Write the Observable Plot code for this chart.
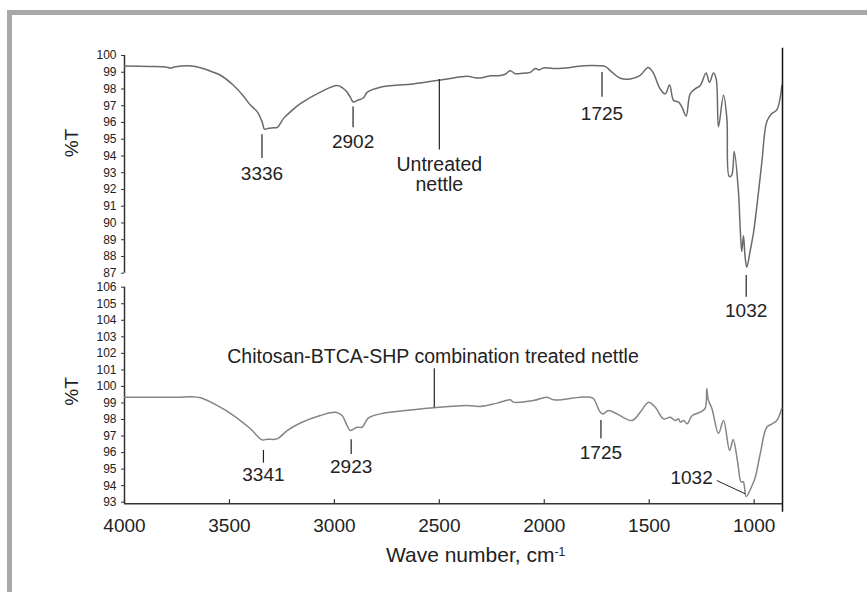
<!DOCTYPE html>
<html><head><meta charset="utf-8">
<script src="https://cdn.jsdelivr.net/npm/d3@7"></script>
<script src="https://cdn.jsdelivr.net/npm/@observablehq/plot@0.6"></script>
<style>
body{margin:0;background:#fff;}
#wrap{position:relative;width:867px;height:592px;overflow:hidden;font-family:"Liberation Sans",Arial,sans-serif;color:#222;}
#frame{position:absolute;left:7px;top:10px;width:900px;height:700px;border-top:5px solid #a8a8a8;border-left:5px solid #a8a8a8;}
#wrap svg{position:absolute;left:0;top:0;}
</style></head><body><div id="wrap"><div id="frame"></div></div>
<script>
// Untreated nettle spectrum (wavenumber cm-1, %T)
const topWave = [4000,3876,3805,3781,3757,3662,3605,3543,3481,3433,3400,3367,3343,3333,3314,3290,3271,3243,3210,3162,3067,2986,2948,2924,2910,2886,2862,2843,2781,2624,2462,2367,2329,2305,2257,2210,2186,2162,2138,2114,2067,2043,2024,2005,1957,1900,1814,1733,1710,1676,1638,1590,1543,1505,1482,1448,1424,1403,1384,1360,1344,1324,1305,1281,1257,1229,1213,1194,1181,1170,1146,1130,1119,1107,1095,1075,1067,1059,1051,1043,1035,1019,1003,979,963,940,916,892,868];
const topT    = [99.37,99.35,99.32,99.25,99.33,99.35,99.13,98.82,98.22,97.57,97.04,96.63,95.98,95.60,95.65,95.68,95.71,96.23,96.63,97.12,97.81,98.21,97.93,97.51,97.22,97.34,97.46,97.81,98.11,98.30,98.60,98.76,98.67,98.66,98.79,98.80,98.88,99.09,98.91,98.93,98.99,99.23,99.14,99.26,99.23,99.26,99.39,99.39,99.35,98.99,98.64,98.60,98.82,99.29,98.99,98.01,97.71,98.24,97.32,97.22,96.92,96.39,97.71,98.01,98.21,98.95,98.40,98.95,98.60,95.74,97.62,96.23,92.78,92.84,94.26,91.89,89.80,88.30,89.23,87.95,87.36,88.34,89.43,91.89,93.67,96.04,96.53,96.75,98.21];
// Chitosan-BTCA-SHP treated nettle spectrum
const botWave = [4000,3749,3686,3638,3559,3480,3400,3344,3320,3273,3225,3162,3067,2995,2963,2940,2924,2892,2868,2852,2837,2781,2622,2527,2368,2305,2225,2162,2146,2051,1987,1956,1829,1781,1765,1733,1719,1694,1654,1582,1543,1503,1471,1432,1400,1376,1360,1352,1336,1320,1295,1257,1233,1226,1219,1201,1170,1146,1117,1100,1079,1062,1052,1038,1014,995,971,940,914,892,868];
const botT    = [99.35,99.35,99.38,99.31,98.85,98.24,97.44,96.77,96.81,96.83,97.33,97.79,98.24,98.44,98.24,97.64,97.34,97.53,97.53,97.84,98.10,98.34,98.59,98.71,98.85,98.79,98.99,99.19,99.05,99.15,99.35,99.19,99.35,99.35,99.25,98.44,98.34,98.54,98.34,97.94,98.44,99.05,98.74,98.04,98.14,97.94,98.04,97.84,97.94,97.74,98.24,98.44,98.69,99.86,99.21,98.65,97.15,97.94,96.13,96.79,95.46,94.22,94.25,93.34,93.89,94.49,95.93,97.53,97.74,97.94,98.70];

const xTicks = [4000,3500,3000,2500,2000,1500,1000];
const topTicks = d3.range(87,101);
const botTicks = d3.range(93,107);

// peak annotations: wavenumber of marker, marker span (%T), label position (%T)
const topMarks = [
  {wave:3345, y1:95.27, y2:93.85, ly:92.9, label:"3336"},
  {wave:2911, y1:96.92, y2:95.68, ly:94.85, label:"2902"},
  {wave:1725, y1:98.99, y2:97.51, ly:96.53, label:"1725"},
  {wave:1038, y1:86.86, y2:85.56, ly:84.75, label:"1032"}
];
const topName = [{wave:2500, y1:98.56, y2:94.36, l1:"Untreated", ly1:93.47, l2:"nettle", ly2:92.29}];
const botMarks = [
  {wave:3338, y1:96.13, y2:95.36, ly:94.67, label:"3341"},
  {wave:2920, y1:96.77, y2:95.88, ly:95.12, label:"2923"},
  {wave:1730, y1:97.94, y2:96.83, ly:95.96, label:"1725"}
];
const botName = [{wave:2524, y1:101.07, y2:98.71, lwave:2530, ly:101.77, label:"Chitosan-BTCA-SHP combination treated nettle"}];
const botLeader = [{x1:1178, y1:94.31, x2:1043, y2:93.51, lx:1298, ly:94.48, label:"1032"}];

const topData = topWave.map((w,i)=>({wave:w, t:topT[i]}));
const botData = botWave.map((w,i)=>({wave:w, t:botT[i]}));

const font = "Liberation Sans, Arial, sans-serif";
const common = {
  width:867, height:592, marginLeft:124, marginRight:85,
  style:{background:"transparent", fontFamily:font, overflow:"visible", color:"#222"},
  x:{domain:[4000,865], axis:null}
};
const ink = "#222";

const topPlot = Plot.plot({
  ...common,
  marginTop:55, marginBottom:592-272.7,
  y:{domain:[87,100], axis:null},
  marks:[
    Plot.ruleX([4000], {y1:87, y2:100, stroke:"#333", strokeWidth:1.5}),
    Plot.axisY(topTicks, {anchor:"left", tickSize:3, tickPadding:5, fontSize:12, stroke:"#333"}),
    Plot.line(topData, {x:"wave", y:"t", stroke:"#6a6a6a", strokeWidth:1.5, curve:"catmull-rom"}),
    Plot.ruleX([865], {y1:100.44, y2:72.73, stroke:"#111", strokeWidth:1.5}),
    Plot.ruleX(topMarks, {x:"wave", y1:"y1", y2:"y2", stroke:ink, strokeWidth:1.2}),
    Plot.text(topMarks, {x:"wave", y:"ly", text:"label", fontSize:19, fill:ink}),
    Plot.ruleX(topName, {x:"wave", y1:"y1", y2:"y2", stroke:ink, strokeWidth:1.2}),
    Plot.text(topName, {x:"wave", y:"ly1", text:"l1", fontSize:19.5, fill:ink}),
    Plot.text(topName, {x:"wave", y:"ly2", text:"l2", fontSize:19.5, fill:ink}),
    Plot.text(["%T"], {frameAnchor:"left", dx:-53, dy:-7, rotate:-90, fontSize:19, fill:ink})
  ]
});

const botPlot = Plot.plot({
  ...common,
  marginTop:286.7, marginBottom:592-501.7,
  y:{domain:[93,106], axis:null},
  marks:[
    Plot.ruleX([4000], {y1:92.9, y2:106, stroke:"#333", strokeWidth:1.5}),
    Plot.axisY(botTicks, {anchor:"left", tickSize:3, tickPadding:5, fontSize:12, stroke:"#333"}),
    Plot.ruleY([92.9], {x1:4000, x2:865, stroke:"#333", strokeWidth:1.5}),
    Plot.ruleX(xTicks, {y1:92.9, y2:93.15, stroke:"#333", strokeWidth:1.2}),
    Plot.axisX(xTicks, {anchor:"bottom", tickSize:0, tickPadding:16, fontSize:19, tickFormat:d => String(d)}),
    Plot.line(botData, {x:"wave", y:"t", stroke:"#858585", strokeWidth:1.5, curve:"catmull-rom"}),
    Plot.ruleX(botMarks, {x:"wave", y1:"y1", y2:"y2", stroke:ink, strokeWidth:1.2}),
    Plot.text(botMarks, {x:"wave", y:"ly", text:"label", fontSize:19, fill:ink}),
    Plot.ruleX(botName, {x:"wave", y1:"y1", y2:"y2", stroke:ink, strokeWidth:1.2}),
    Plot.text(botName, {x:"lwave", y:"ly", text:"label", fontSize:19.5, fill:ink}),
    Plot.link(botLeader, {x1:"x1", y1:"y1", x2:"x2", y2:"y2", stroke:ink, strokeWidth:1}),
    Plot.text(botLeader, {x:"lx", y:"ly", text:"label", fontSize:19, fill:ink}),
    Plot.text(["%T"], {frameAnchor:"left", dx:-53, dy:11, rotate:-90, fontSize:19, fill:ink}),
    Plot.text(["Wave number, cm"], {frameAnchor:"bottom", dx:22, dy:60, fontSize:21, fill:ink})
  ]
});

const wrap = document.getElementById("wrap");
wrap.appendChild(topPlot);
wrap.appendChild(botPlot);
// superscript "-1" on the axis title
d3.select(botPlot).selectAll("text").filter(function(){return this.textContent === "Wave number, cm";})
  .append("tspan").attr("dy", "-0.55em").attr("font-size", "12px").text("-1");
</script>
</body></html>
